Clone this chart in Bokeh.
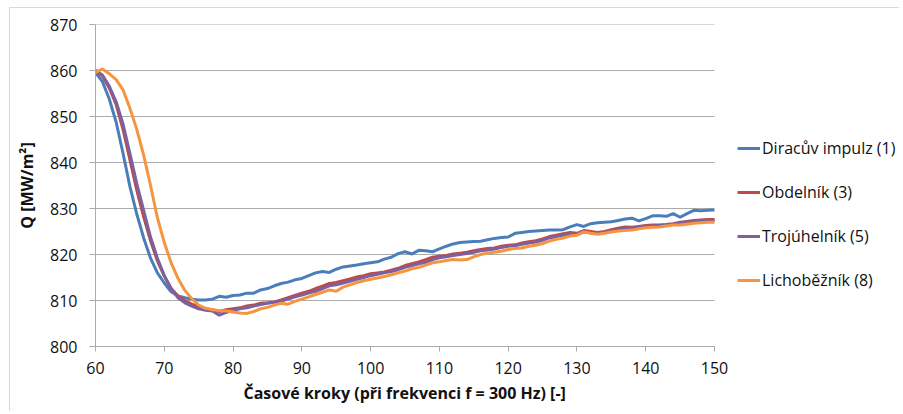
from bokeh.plotting import figure
from bokeh.models import Legend, LegendItem, FixedTicker, Range1d, Title
from bokeh.embed import file_html
from bokeh.resources import INLINE

steps = list(range(60, 151))

dirac = [859.6, 857.6, 853.8, 848.8, 842.0, 834.8, 828.8, 823.6, 819.2, 816.0,
         813.8, 811.9, 811.0, 810.6, 810.3, 810.1, 810.1, 810.3, 810.9, 810.7,
         811.1, 811.2, 811.6, 811.6, 812.3, 812.6, 813.2, 813.7, 814.0, 814.5,
         814.8, 815.4, 816.0, 816.3, 816.1, 816.8, 817.3, 817.5, 817.7, 818.0,
         818.2, 818.4, 819.0, 819.4, 820.2, 820.6, 820.1, 820.9, 820.8, 820.6,
         821.2, 821.8, 822.3, 822.6, 822.7, 822.8, 822.9, 823.2, 823.5, 823.7,
         823.8, 824.6, 824.8, 825.0, 825.1, 825.2, 825.3, 825.3, 825.4, 826.0,
         826.5, 826.1, 826.7, 826.9, 827.0, 827.1, 827.4, 827.7, 827.9, 827.3,
         827.8, 828.4, 828.4, 828.3, 828.9, 828.1, 828.9, 829.6, 829.5, 829.6,
         829.7]

obdelnik = [860.0, 858.8, 856.2, 852.6, 847.2, 840.6, 834.0, 828.2, 823.0, 818.6,
            815.3, 812.6, 811.0, 810.0, 809.2, 808.6, 808.2, 808.0, 807.6, 808.0,
            808.2, 808.4, 808.8, 809.0, 809.4, 809.5, 809.7, 810.1, 810.6, 811.1,
            811.6, 812.0, 812.6, 813.1, 813.7, 813.9, 814.3, 814.7, 815.1, 815.4,
            815.8, 816.0, 816.2, 816.6, 817.0, 817.6, 818.0, 818.4, 818.9, 819.4,
            819.6, 819.8, 820.1, 820.3, 820.5, 820.8, 821.1, 821.3, 821.4, 821.8,
            822.0, 822.1, 822.5, 822.8, 823.0, 823.4, 823.9, 824.2, 824.5, 824.8,
            824.6, 825.2, 825.0, 824.8, 825.0, 825.4, 825.7, 826.0, 825.9, 826.1,
            826.3, 826.4, 826.4, 826.5, 826.7, 827.0, 827.2, 827.4, 827.5, 827.6,
            827.6]

trojuhelnik = [860.0, 859.0, 856.6, 853.2, 848.4, 842.0, 835.4, 829.6, 823.8, 819.2,
               815.4, 812.6, 810.6, 809.5, 808.8, 808.2, 807.9, 807.7, 806.8, 807.4,
               807.9, 808.2, 808.4, 808.8, 809.1, 809.4, 809.6, 809.9, 810.3, 810.8,
               811.2, 811.6, 812.0, 812.6, 813.2, 813.4, 813.8, 814.2, 814.6, 815.0,
               815.4, 815.7, 816.0, 816.3, 816.7, 817.2, 817.6, 818.0, 818.3, 818.9,
               819.3, 819.5, 819.8, 820.0, 820.2, 820.5, 820.8, 821.0, 821.2, 821.5,
               821.8, 821.9, 822.2, 822.5, 822.7, 823.1, 823.6, 823.9, 824.2, 824.5,
               824.4, 824.9, 824.7, 824.6, 824.8, 825.1, 825.4, 825.7, 825.7, 825.9,
               826.1, 826.2, 826.3, 826.4, 826.6, 826.8, 827.0, 827.2, 827.3, 827.4,
               827.4]

lichobeznik = [859.6, 860.3, 859.3, 858.0, 855.8, 851.8, 847.2, 841.6, 835.0, 828.0,
               822.6, 818.2, 814.8, 812.2, 810.4, 809.0, 808.3, 808.0, 807.8, 807.7,
               807.5, 807.3, 807.2, 807.6, 808.2, 808.5, 809.0, 809.4, 809.2, 809.8,
               810.3, 810.8, 811.3, 811.8, 812.3, 812.0, 812.9, 813.4, 813.9, 814.3,
               814.6, 814.9, 815.2, 815.6, 816.0, 816.4, 816.9, 817.2, 817.7, 818.2,
               818.4, 818.7, 818.9, 818.8, 818.9, 819.5, 820.0, 820.3, 820.5, 820.7,
               821.1, 821.3, 821.4, 821.8, 822.0, 822.4, 822.9, 823.3, 823.6, 824.0,
               824.2, 824.9, 824.6, 824.4, 824.6, 824.9, 825.1, 825.2, 825.3, 825.6,
               825.8, 825.9, 826.0, 826.2, 826.4, 826.4, 826.6, 826.8, 826.9, 827.0,
               827.0]

series_names = ["Diracův impulz (1)", "Obdelník (3)", "Trojúhelník (5)", "Lichoběžník (8)"]
series_values = [dirac, obdelnik, trojuhelnik, lichobeznik]
colors = ["#4A7EBB", "#BE4B48", "#7D60A0", "#F59540"]

x_ticks = [60, 70, 80, 90, 100, 110, 120, 130, 140, 150]
y_ticks = [800, 810, 820, 830, 840, 850, 860, 870]
x_title = "Časové kroky  (při frekvenci f = 300 Hz) [-]"
y_title = "Q [MW/m²]"

FONT = "Open Sans"

# plot area spans x 60..150 over 619 px; the frame is widened to host the legend
X0, X1 = 60, 150
FRAME_W = 805
x_end = X0 + (X1 - X0) * FRAME_W / 619.0

p = figure(width=890, height=404, output_backend="svg", toolbar_location=None,
           x_range=Range1d(X0, x_end), y_range=Range1d(800, 870),
           min_border_left=85, min_border_right=0, min_border_top=16,
           min_border_bottom=66)
p.styles = {"margin-left": "9px", "margin-top": "7px",
            "border-left": "1px solid #d9d9d9", "border-top": "1px solid #d9d9d9"}
p.outline_line_color = None
p.background_fill_color = "white"
p.border_fill_color = "white"

grid_col = "#ababab"
p.xgrid.grid_line_color = None
p.ygrid.grid_line_color = None
n = len(y_ticks)
p.segment(x0=[X0] * n, y0=y_ticks, x1=[X1] * n, y1=y_ticks,
          line_color=grid_col, line_width=1)

items = []
for name, vals, col in zip(series_names, series_values, colors):
    r = p.line(steps, vals, line_color=col, line_width=3)
    items.append(LegendItem(label=name, renderers=[r]))

p.xaxis.ticker = FixedTicker(ticks=x_ticks)
p.yaxis.ticker = FixedTicker(ticks=y_ticks)
p.xaxis.bounds = (X0, X1)
for ax in (p.xaxis, p.yaxis):
    ax.axis_line_color = grid_col
    ax.major_tick_line_color = grid_col
    ax.minor_tick_line_color = None
    ax.major_tick_in = 0
    ax.major_tick_out = 5
    ax.major_label_text_font = FONT
    ax.major_label_text_font_size = "16px"
    ax.major_label_text_color = "#111111"
    ax.axis_label_text_font = FONT
    ax.axis_label_text_font_size = "16px"
    ax.axis_label_text_font_style = "bold"
    ax.axis_label_text_color = "#111111"

p.yaxis.major_tick_out = 6
p.yaxis.major_label_standoff = 12
p.yaxis.axis_label = y_title
p.yaxis.axis_label_standoff = 9
p.xaxis.major_label_standoff = 10

# x axis title centred under the 60..150 span (not the widened frame)
xt = Title(text=x_title, align="left", offset=148, standoff=7,
           text_font=FONT, text_font_size="16px", text_font_style="bold",
           text_color="#111111")
p.add_layout(xt, "below")

legend = Legend(items=items, location=(642, 55), margin=0, padding=0,
                spacing=22, glyph_width=23, glyph_height=20, label_height=20,
                label_standoff=2, border_line_color=None,
                background_fill_alpha=0, label_text_font=FONT,
                label_text_font_size="16px", label_text_color="#111111")
p.add_layout(legend, "center")

open("out.html", "w").write(file_html(p, INLINE))
